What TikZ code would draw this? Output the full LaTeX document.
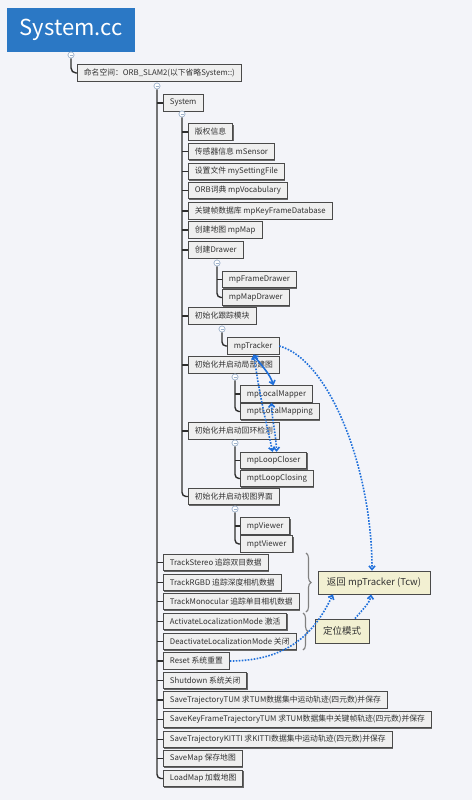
\documentclass[tikz,border=0pt]{standalone}
\usepackage{fontspec}
\setmainfont{Noto Sans CJK SC}
\usetikzlibrary{arrows.meta,shadows,decorations.pathreplacing}
\definecolor{bg}{HTML}{F3F4F9}
\definecolor{titleblue}{HTML}{2B78C5}
\definecolor{boxfill}{HTML}{EFEFEF}
\definecolor{boxborder}{HTML}{4A4A4A}
\definecolor{yfill}{HTML}{F2F0D2}
\definecolor{txt}{HTML}{333333}
\definecolor{treeline}{HTML}{2E2E2E}
\definecolor{knobc}{HTML}{9FB3CC}
\definecolor{linkblue}{HTML}{1E6FDB}
\definecolor{bracec}{HTML}{808080}
\tikzset{
  box/.style={draw=boxborder, fill=boxfill, line width=0.8pt, text=txt,
    font=\fontsize{7.8}{9}\selectfont, anchor=west, minimum height=16.5pt,
    inner xsep=6.5pt, inner ysep=0pt,
    drop shadow={shadow xshift=0.9pt, shadow yshift=-0.9pt, fill=black!65, opacity=0.9}},
  ybox/.style={box, fill=yfill, anchor=center, font=\fontsize{9.5}{11}\selectfont},
  titlebox/.style={fill=titleblue, text=white, anchor=north west, minimum width=128pt,
    minimum height=44pt, inner sep=0pt, font=\fontsize{22}{26}\selectfont},
  tree/.style={draw=treeline, line width=1.4pt},
  knob/.style={circle, draw=knobc, fill=white, inner sep=0pt, minimum size=6pt, line width=0.6pt,
    path picture={\draw[knobc, line width=0.5pt] ([xshift=-1.5pt]path picture bounding box.center) -- ([xshift=1.5pt]path picture bounding box.center);}},
  link/.style={draw=linkblue, line width=1.6pt, dash pattern=on 1.6pt off 1.4pt},
  tip/.style={-{Straight Barb[length=3.5pt,width=6pt]}},
  bothtip/.style={{Straight Barb[length=3.5pt,width=6pt]}-{Straight Barb[length=3.5pt,width=6pt]}},
  bracestyle/.style={draw=bracec, line width=1.1pt, decorate, decoration={brace, amplitude=5pt}},
}
\begin{document}
\begin{tikzpicture}[x=1pt, y=-1pt]
\fill[bg] (0,0) rectangle (472,800);
\useasboundingbox (0,0) rectangle (472,800);

\node[titlebox] (title) at (7,8) {System.cc};
\node[knob] (k0) at (71,55) {};
\node[box] (ns) at (77,73) {命名空间：ORB\_SLAM2(以下省略System::)};
\draw[tree, rounded corners=5pt] (k0.south) |- (ns.west);

\node[knob] (k1) at (157,86) {};
\node[box] (sys) at (163,103) {System};

% System children
\node[box] (c1) at (188,132) {版权信息};
\node[box] (c2) at (188,151.5) {传感器信息 mSensor};
\node[box] (c3) at (188,171.5) {设置文件 mySettingFile};
\node[box] (c4) at (188,190.5) {ORB词典 mpVocabulary};
\node[box] (c5) at (188,211) {关键帧数据库 mpKeyFrameDatabase};
\node[box] (c6) at (188,230) {创建地图 mpMap};
\node[box] (c7) at (188,250) {创建Drawer};
\node[box] (fd) at (222,279.5) {mpFrameDrawer};
\node[box] (md) at (222,297.5) {mpMapDrawer};
\node[box] (c8) at (188,316) {初始化跟踪模块};
\node[box] (trk) at (227,346) {mpTracker};
\node[box] (c9) at (188,365) {初始化并启动局部建图};
\node[box] (lm) at (240,394) {mpLocalMapper};
\node[box] (tlm) at (240,411.5) {mptLocalMapping};
\node[box] (c10) at (188,431) {初始化并启动回环检测};
\node[box] (lc) at (240,460.5) {mpLoopCloser};
\node[box] (tlc) at (240,478.5) {mptLoopClosing};
\node[box] (c11) at (188,496.5) {初始化并启动视图界面};
\node[box] (vw) at (240,526) {mpViewer};
\node[box] (tvw) at (240,544) {mptViewer};

% main children
\node[box] (m1) at (163,562.5) {TrackStereo 追踪双目数据};
\node[box] (m2) at (163,582.5) {TrackRGBD 追踪深度相机数据};
\node[box] (m3) at (163,601.5) {TrackMonocular 追踪单目相机数据};
\node[box] (m4) at (163,621.5) {ActivateLocalizationMode 激活};
\node[box] (m5) at (163,641.5) {DeactivateLocalizationMode 关闭};
\node[box] (reset) at (163,661) {Reset 系统重置};
\node[box] (m7) at (163,680.5) {Shutdown 系统关闭};
\node[box] (m8) at (163,700) {SaveTrajectoryTUM 求TUM数据集中运动轨迹(四元数)并保存};
\node[box] (m9) at (163,719.5) {SaveKeyFrameTrajectoryTUM 求TUM数据集中关键帧轨迹(四元数)并保存};
\node[box] (m10) at (163,739.5) {SaveTrajectoryKITTI 求KITTI数据集中运动轨迹(四元数)并保存};
\node[box] (m11) at (163,758.5) {SaveMap 保存地图};
\node[box] (load) at (163,778.5) {LoadMap 加载地图};

% knobs
\node[knob] (k2) at (182,114) {};
\node[knob] (k3) at (217,263) {};
\node[knob] (k4) at (222,329) {};
\node[knob] (k5) at (235,377) {};
\node[knob] (k6) at (235,443) {};
\node[knob] (k7) at (235,509) {};

% tree lines
\draw[tree, rounded corners=4pt] (k1.south) |- (load.west);
\foreach \n in {sys,m1,m2,m3,m4,m5,reset,m7,m8,m9,m10,m11}
  \draw[tree] (k1.south |- \n.west) -- (\n.west);
\draw[tree, rounded corners=4pt] (k2.south) |- (c11.west);
\foreach \n in {c1,c2,c3,c4,c5,c6,c7,c8,c9,c10}
  \draw[tree] (k2.south |- \n.west) -- (\n.west);
\draw[tree, rounded corners=4pt] (k3.south) |- (md.west);
\draw[tree] (k3.south |- fd.west) -- (fd.west);
\draw[tree, rounded corners=4pt] (k4.south) |- (trk.west);
\draw[tree, rounded corners=4pt] (k5.south) |- (tlm.west);
\draw[tree] (k5.south |- lm.west) -- (lm.west);
\draw[tree, rounded corners=4pt] (k6.south) |- (tlc.west);
\draw[tree] (k6.south |- lc.west) -- (lc.west);
\draw[tree, rounded corners=4pt] (k7.south) |- (tvw.west);
\draw[tree] (k7.south |- vw.west) -- (vw.west);

% redraw knobs on top
\foreach \k in {k0,k1,k2,k3,k4,k5,k6,k7} \node[knob] at (\k) {};

% braces
\draw[bracestyle] (306,553) -- (306,612);
\draw[bracestyle] (303,613) -- (303,650);

% result boxes
\node[ybox, minimum width=112pt, minimum height=23pt] (ret) at (374,582.5) {返回 mpTracker (Tcw)};
\node[ybox, minimum width=54pt, minimum height=24pt] (loc) at (342,631) {定位模式};

% links
\draw[link, tip] (trk.east) .. controls (330,360) and (372,470) .. ([xshift=-2pt]ret.north);
\draw[link, tip] ([xshift=13pt]loc.north) .. controls (362,610) and (370,603) .. ([xshift=-3pt]ret.south);
\draw[link, tip] (reset.east) .. controls (295,661) and (318,625) .. ([xshift=-41pt]ret.south);
\draw[draw=linkblue, line width=1.6pt, bothtip] (trk.south) .. controls (262,366) and (270,374) .. ([xshift=-3pt]lm.north);
\draw[link, bothtip] ([xshift=1pt]trk.south) .. controls (258,390) and (268,430) .. ([xshift=-1pt]lc.north);
\draw[link, bothtip] ([xshift=-5pt]lm.south) .. controls (272,420) and (276,435) .. ([xshift=3pt]lc.north);
\end{tikzpicture}
\end{document}
